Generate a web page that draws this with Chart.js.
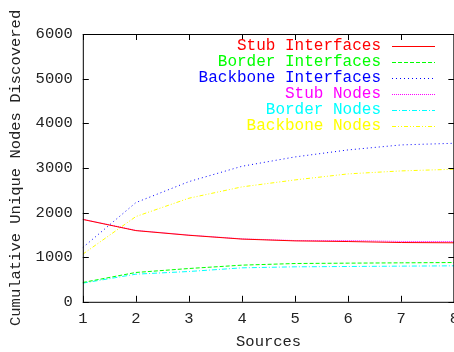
<!DOCTYPE html>
<html>
<head>
<meta charset="utf-8">
<script src="https://cdn.jsdelivr.net/npm/chart.js@4/dist/chart.umd.min.js"></script>
<style>
  html, body { margin: 0; padding: 0; background: #fff; }
  #clip { width: 454px; height: 352px; overflow: hidden; }
  #wrap { width: 467px; height: 352px; }
</style>
</head>
<body>
<div id="clip"><div id="wrap"><canvas id="chart"></canvas></div></div>
<script>
const sources = [1, 2, 3, 4, 5, 6, 7, 8];
const stubInterfaces = [1845, 1595, 1490, 1405, 1365, 1350, 1328, 1322];
const borderInterfaces = [433, 657, 746, 821, 858, 866, 873, 880];
const backboneInterfaces = [1216, 2223, 2693, 3037, 3246, 3403, 3515, 3552];
const stubNodes = [1850, 1600, 1495, 1410, 1372, 1372, 1352, 1350];
const borderNodes = [418, 619, 679, 761, 784, 791, 799, 806];
const backboneNodes = [1067, 1910, 2321, 2575, 2731, 2866, 2933, 2970];

const FONT = "'Liberation Mono', 'Courier New', monospace";

const series = [
    { label: 'Stub Interfaces', data: stubInterfaces, color: '#ff0000', dash: [] },
    { label: 'Border Interfaces', data: borderInterfaces, color: '#00ff00', dash: [4, 2] },
    { label: 'Backbone Interfaces', data: backboneInterfaces, color: '#0000ff', dash: [1, 3] },
    { label: 'Stub Nodes', data: stubNodes, color: '#ff00ff', dash: [1, 1] },
    { label: 'Border Nodes', data: borderNodes, color: '#00ffff', dash: [5, 2, 1, 2] },
    { label: 'Backbone Nodes', data: backboneNodes, color: '#ffff00', dash: [4, 2, 1, 2, 1, 2] }
];

// gnuplot style frame, inward ticks and right-aligned legend
const framePlugin = {
    id: 'frame',
    afterDatasetsDraw(chart) {
        const ctx = chart.ctx;
        const a = chart.chartArea;
        const xs = chart.scales.x;
        const ys = chart.scales.y;
        ctx.save();
        ctx.strokeStyle = '#000';
        ctx.lineWidth = 1;
        ctx.setLineDash([]);
        ctx.strokeRect(a.left + 0.5, a.top + 0.5, a.right - a.left - 1, a.bottom - a.top);
        ctx.beginPath();
        ys.ticks.forEach(t => {
            const y = Math.round(ys.getPixelForValue(t.value)) + 0.5;
            ctx.moveTo(a.left, y); ctx.lineTo(a.left + 6, y);
            ctx.moveTo(a.right, y); ctx.lineTo(a.right - 6, y);
        });
        xs.ticks.forEach((t, i) => {
            const x = Math.round(xs.getPixelForTick(i)) + 0.5;
            ctx.moveTo(x, a.bottom); ctx.lineTo(x, a.bottom - 6);
            ctx.moveTo(x, a.top); ctx.lineTo(x, a.top + 6);
        });
        ctx.stroke();

        ctx.font = '16px ' + FONT;
        ctx.textAlign = 'right';
        ctx.textBaseline = 'middle';
        series.forEach((s, i) => {
            const y = a.top + 12 + i * 16;
            ctx.fillStyle = s.color;
            ctx.fillText(s.label, 381, y);
            ctx.beginPath();
            ctx.strokeStyle = s.color;
            ctx.setLineDash(s.dash);
            ctx.moveTo(392, Math.round(y) + 0.5);
            ctx.lineTo(435, Math.round(y) + 0.5);
            ctx.stroke();
        });
        ctx.restore();
    }
};

new Chart(document.getElementById('chart').getContext('2d'), {
    type: 'line',
    data: {
        labels: sources,
        datasets: series.map(s => ({
            label: s.label,
            data: s.data,
            borderColor: s.color,
            backgroundColor: s.color,
            borderDash: s.dash,
            borderWidth: 1,
            pointRadius: 0,
            tension: 0,
            fill: false
        }))
    },
    options: {
        responsive: true,
        maintainAspectRatio: false,
        animation: false,
        layout: { padding: { top: 34, right: 0, bottom: 1, left: 7 } },
        plugins: {
            legend: { display: false },
            tooltip: { enabled: false }
        },
        scales: {
            x: {
                type: 'category',
                offset: false,
                grid: { display: false, drawTicks: false },
                border: { display: false },
                ticks: { color: '#222', font: { family: FONT, size: 15.5 }, padding: 8, maxRotation: 0 },
                title: { display: true, text: 'Sources', color: '#222', font: { family: FONT, size: 15.5 }, padding: { top: -4, bottom: 0 } }
            },
            y: {
                min: 0,
                max: 6000,
                grid: { display: false, drawTicks: false },
                border: { display: false },
                ticks: { stepSize: 1000, color: '#222', font: { family: FONT, size: 15.5 }, padding: 10, callback: v => String(v) },
                title: { display: true, text: 'Cumulative Unique Nodes Discovered', color: '#222', font: { family: FONT, size: 15.5 }, padding: { top: 0, bottom: 0 } }
            }
        }
    },
    plugins: [framePlugin]
});
</script>
</body>
</html>
